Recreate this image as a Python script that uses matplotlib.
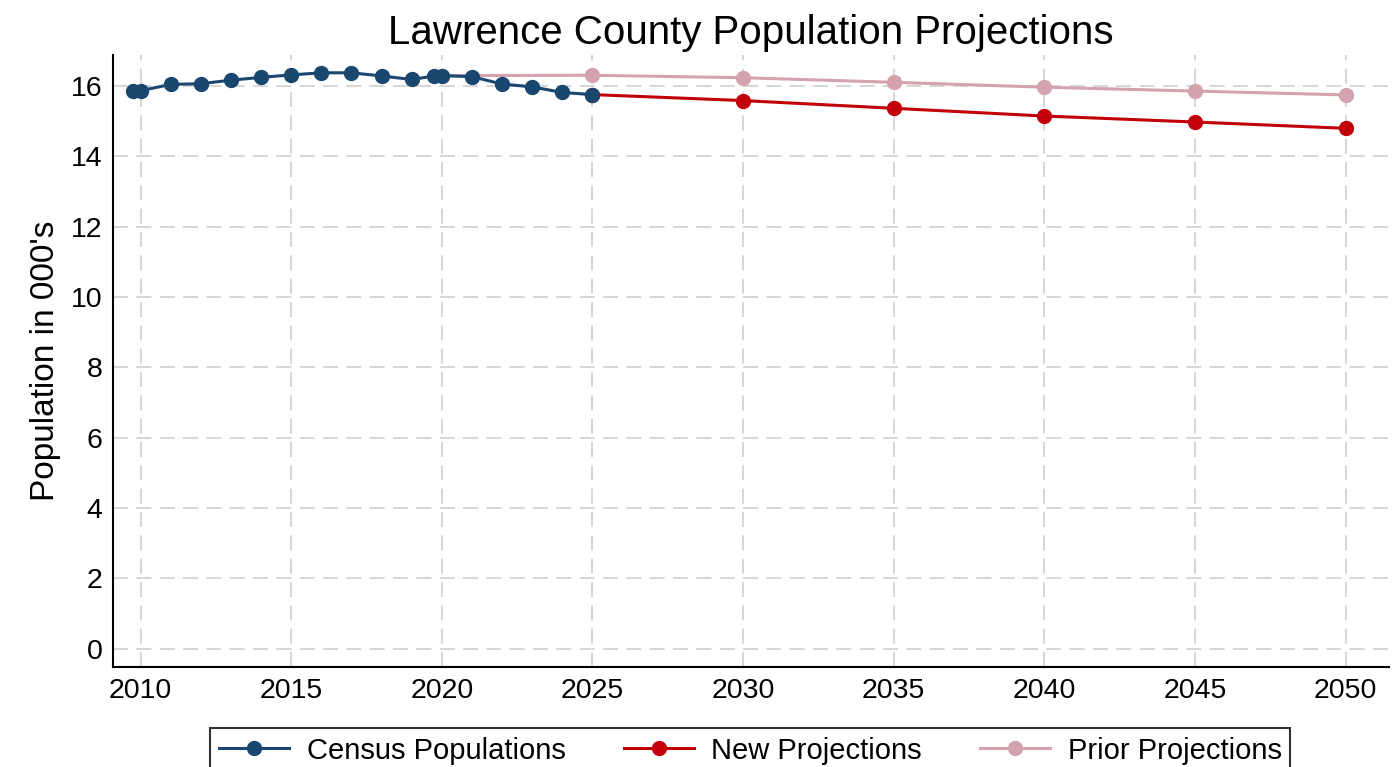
import matplotlib
matplotlib.use("Agg")
import matplotlib.pyplot as plt

plt.rcParams['font.family'] = ['Liberation Sans', 'DejaVu Sans']

# Census estimates (two points at 2010 and 2020: census base + July estimate)
census_years = [2009.75, 2010, 2011, 2012, 2013, 2014, 2015, 2016, 2017, 2018,
                2019, 2019.75, 2020, 2021, 2022, 2023, 2024, 2025]
census_pop = [15.86, 15.87, 16.05, 16.07, 16.17, 16.25, 16.32, 16.38, 16.38, 16.29,
              16.19, 16.29, 16.30, 16.27, 16.06, 15.98, 15.82, 15.76]

new_years = [2025, 2030, 2035, 2040, 2045, 2050]
new_pop = [15.76, 15.59, 15.37, 15.15, 14.98, 14.80]

prior_years = [2020, 2025, 2030, 2035, 2040, 2045, 2050]
prior_pop = [16.30, 16.31, 16.24, 16.11, 15.97, 15.86, 15.75]

x_ticks = list(range(2010, 2051, 5))
y_ticks = list(range(0, 17, 2))

navy = '#1a476f'
red = '#c10009'
pink = '#d4a3ad'

fig = plt.figure(figsize=(14, 7.67), dpi=100)
ax = fig.add_axes([0.081, 0.131, 0.911, 0.797])

ax.plot(prior_years, prior_pop, color=pink, lw=2.2, marker='o', ms=10, zorder=2,
        label='Prior Projections')
ax.plot(new_years, new_pop, color=red, lw=2.2, marker='o', ms=10, zorder=3,
        label='New Projections')
ax.plot(census_years, census_pop, color=navy, lw=2.2, marker='o', ms=10, zorder=4,
        label='Census Populations')

ax.set_xlim(2009.1, 2051.43)
ax.set_ylim(-0.51, 16.88)
ax.set_xticks(x_ticks)
ax.set_yticks(y_ticks)
ax.tick_params(length=0, labelsize=20.5, pad=8)
ax.grid(True, color='#d0d0d0', ls=(0, (9, 5)), lw=1.2)
ax.set_axisbelow(True)
for s in ['top', 'right']:
    ax.spines[s].set_visible(False)
for s in ['left', 'bottom']:
    ax.spines[s].set_linewidth(1.5)

ax.set_ylabel("Population in 000's", fontsize=24, labelpad=7)
ax.set_title('Lawrence County Population Projections', fontsize=29, pad=8)

h, l = ax.get_legend_handles_labels()
order = [2, 1, 0]
leg = fig.legend([h[i] for i in order], [l[i] for i in order], loc='upper center',
                 bbox_to_anchor=(0.536, 0.051), ncol=3, fontsize=21, frameon=True,
                 fancybox=False, edgecolor='black', handlelength=2.4,
                 handletextpad=0.6, columnspacing=2.0, borderpad=0.3,
                 borderaxespad=0)
leg.get_frame().set_linewidth(1.5)

fig.savefig('out.png', dpi=100, facecolor='white')
